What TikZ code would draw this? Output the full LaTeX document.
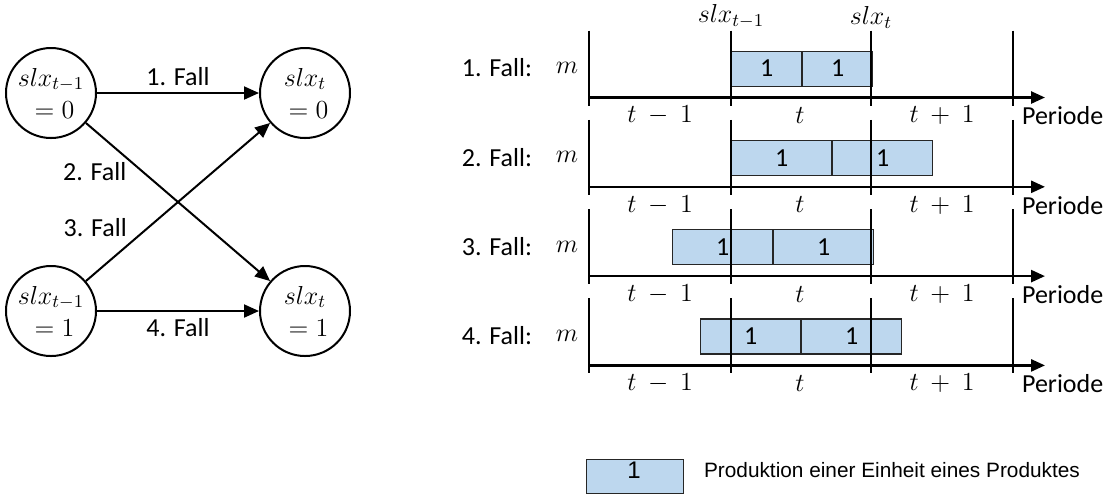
\documentclass[tikz,border=0pt]{standalone}
\usepackage{fix-cm}
\usepackage[no-math]{fontspec}
\setmainfont{Carlito}
\newfontfamily\legendfont{Liberation Sans}
\usetikzlibrary{arrows.meta}
\definecolor{cellblue}{RGB}{189,215,238}

\begin{document}
\begin{tikzpicture}[
    x=0.5pt, y=-0.5pt,
    font=\fontsize{13}{16}\selectfont,
    state/.style={circle,draw,line width=1pt,minimum size=45pt,inner sep=0pt,align=center},
    trans/.style={-{Triangle[length=7.5pt,width=6.5pt]},line width=1pt},
    axis/.style={-{Triangle[length=7pt,width=6pt]},line width=1.3pt},
    tick/.style={line width=1pt},
    cell/.style={draw=black!85,fill=cellblue,line width=0.6pt,minimum height=17.5pt,inner sep=0pt,anchor=north west},
    legendtext/.style={font=\legendfont\fontsize{10.4}{12}\selectfont}
]
    \useasboundingbox (0,0) rectangle (1111,495);

    % Zustaende
    \node[state] (prev0) at (51,93) {$slx_{t-1}$\\${}=0$};
    \node[state] (cur0) at (305,93) {$slx_t$\\${}=0$};
    \node[state] (prev1) at (51,311) {$slx_{t-1}$\\${}=1$};
    \node[state] (cur1) at (305,311) {$slx_t$\\${}=1$};

    % Faelle
    \draw[trans] (prev0) -- node[above] {1. Fall} (cur0);
    \draw[trans] (prev0) -- node[pos=0.31,left=4.5pt] {2. Fall} (cur1);
    \draw[trans] (prev1) -- node[pos=0.34,left=7pt] {3. Fall} (cur0);
    \draw[trans] (prev1) -- node[below] {4. Fall} (cur1);

    % Produktionseinheiten
    \foreach \r/\xa/\w in {1/731/70, 2/731/100, 3/672/100, 4/700/100} {
        \pgfmathsetmacro\ytop{97.5+89.3*(\r-1)-47}
        \node[cell,minimum width=\w*0.5pt] (unit-\r-a) at (\xa,\ytop) {1};
        \node[cell,minimum width=\w*0.5pt] (unit-\r-b) at (unit-\r-a.north east) {1};
    }

    % Zeitachsen
    \foreach \r in {1,...,4} {
        \pgfmathsetmacro\ya{97.5+89.3*(\r-1)}
        \draw[axis] (589,\ya) -- (1045,\ya);
        \foreach \xt in {589,731,871,1013}
            \draw[tick] (\xt,\ya-67) -- (\xt,\ya+8);
        \node (case-\r) at (497,\ya-29.5) {\r. Fall:};
        \node (m-\r) at (567,\ya-29.5) {$m$};
        \node (tm-\r) at (660,\ya+18) {$t \ - \ 1$};
        \node (t-\r) at (800,\ya+18) {$t$};
        \node (tp-\r) at (942,\ya+18) {$t \ + \ 1$};
        \node[anchor=west] (per-\r) at (1015,\ya+18.5) {Periode};
    }

    % Zeitpunkte
    \node[above,inner sep=1pt] (lblprev) at (731,30.5) {$slx_{t-1}$};
    \node[above,inner sep=1pt] (lblcur) at (871,30.5) {$slx_t$};

    % Legende
    \node[cell,minimum width=48.5pt,minimum height=17pt] (legbox) at (586,459) {};
    \node[font=\legendfont\fontsize{12}{14}\selectfont] (legone) at (634,470) {1};
    \node[legendtext,anchor=west] (legtext) at (697,470) {Produktion einer Einheit eines Produktes};
\end{tikzpicture}
\end{document}
